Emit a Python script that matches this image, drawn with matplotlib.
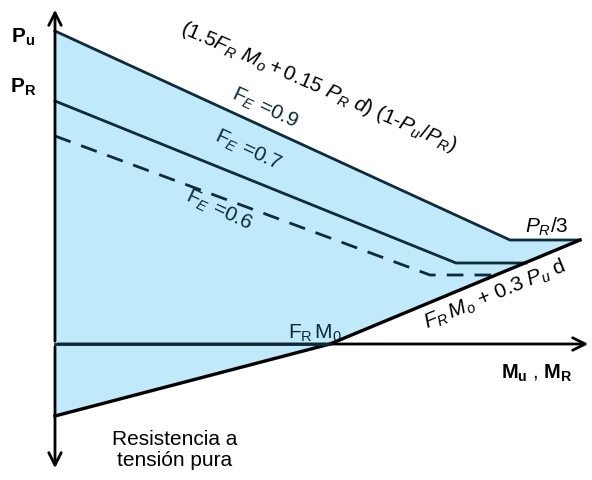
import numpy as np
import matplotlib.pyplot as plt

plt.rcParams['font.family'] = ['Liberation Sans', 'DejaVu Sans']
plt.rcParams['mathtext.fontset'] = 'custom'
plt.rcParams['mathtext.rm'] = 'Liberation Sans'
plt.rcParams['mathtext.it'] = 'Liberation Sans:italic'
plt.rcParams['mathtext.bf'] = 'Liberation Sans:bold'

# interaction curves (M, P) in arbitrary units
m_09 = [0.0, 4.55, 5.25]
p_09 = [3.13, 1.04, 1.04]
m_07 = [0.0, 4.01, 4.71]
p_07 = [2.43, 0.81, 0.81]
m_06 = [0.0, 3.75, 4.42]
p_06 = [2.08, 0.69, 0.69]
# lower boundary (tension side)
m_low = [0.0, 2.75, 5.25]
p_low = [-0.72, 0.0, 1.04]

navy = '#0d2b3a'
fill_c = '#c0e9f9'

fig = plt.figure(figsize=(5.92, 4.81), dpi=100)
ax = fig.add_axes([0, 0, 1, 1])
ax.set_xlim(-0.55, 5.37)
ax.set_ylim(-1.36, 3.45)
ax.axis('off')

# shaded region between top curve and lower boundary
poly_x = m_09 + m_low[::-1]
poly_y = p_09 + p_low[::-1]
ax.fill(poly_x, poly_y, color=fill_c, lw=0, zorder=1)

ax.plot(m_09, p_09, '-', color=navy, lw=2, zorder=3)
ax.plot(m_07, p_07, '-', color=navy, lw=2, zorder=3)
ax.plot(m_06, p_06, '--', color=navy, lw=2, dashes=(6, 4), zorder=3)
ax.plot(m_low, p_low, '-', color='black', lw=2.4, zorder=4)

# axes with arrows
arr = dict(arrowstyle='->,head_length=0.9,head_width=0.45', color='black', lw=2)
ax.annotate('', xy=(0, 3.37), xytext=(0, 0), arrowprops=arr, zorder=5)
ax.annotate('', xy=(0, -1.27), xytext=(0, 0), arrowprops=arr, zorder=5)
ax.annotate('', xy=(5.36, 0), xytext=(0, 0), arrowprops=arr, zorder=5)
ax.plot([0, 2.75], [0, 0], color=navy, lw=2, zorder=5)

# labels
ax.text(-0.32, 3.08, r'$\mathbf{P_u}$', fontsize=15, ha='center', va='center')
ax.text(-0.32, 2.58, r'$\mathbf{P_R}$', fontsize=15, ha='center', va='center')
ax.text(4.82, -0.28, r'$\mathbf{M_u}$ , $\mathbf{M_R}$', fontsize=14.5,
        ha='center', va='center')

ax.text(2.64, 2.58,
        r'$\mathit{(1.5F_R\ M_o + 0.15\ P_R\ d)\ (1}$-$\mathit{P_u/P_R)}$',
        fontsize=15, rotation=-23.5, ha='center', va='center')
ax.text(2.10, 2.37, r'$\mathrm{F}_E\ $=0.9', fontsize=15, rotation=-25,
        ha='center', va='center', color=navy)
ax.text(1.93, 1.95, r'$\mathrm{F}_E\ $=0.7', fontsize=15, rotation=-25,
        ha='center', va='center', color=navy)
ax.text(1.64, 1.35, r'$\mathrm{F}_E\ $=0.6', fontsize=15, rotation=-25,
        ha='center', va='center', color=navy)
ax.text(4.92, 1.18, r'$\mathit{P_R}$/3', fontsize=15, ha='center', va='center')
ax.text(4.40, 0.50, r'$\mathit{F_R\,M_o}$ + 0.3 $\mathit{P_u}$ d', fontsize=15,
        rotation=22.5, ha='center', va='center')
ax.text(2.60, 0.12, r'$\mathrm{F_R\,M_0}$', fontsize=15, ha='center',
        va='center', color=navy)
ax.text(1.20, -1.05, 'Resistencia a\ntensión pura', fontsize=15,
        ha='center', va='center', multialignment='center', linespacing=1.15)

fig.savefig('out.png', dpi=100)
